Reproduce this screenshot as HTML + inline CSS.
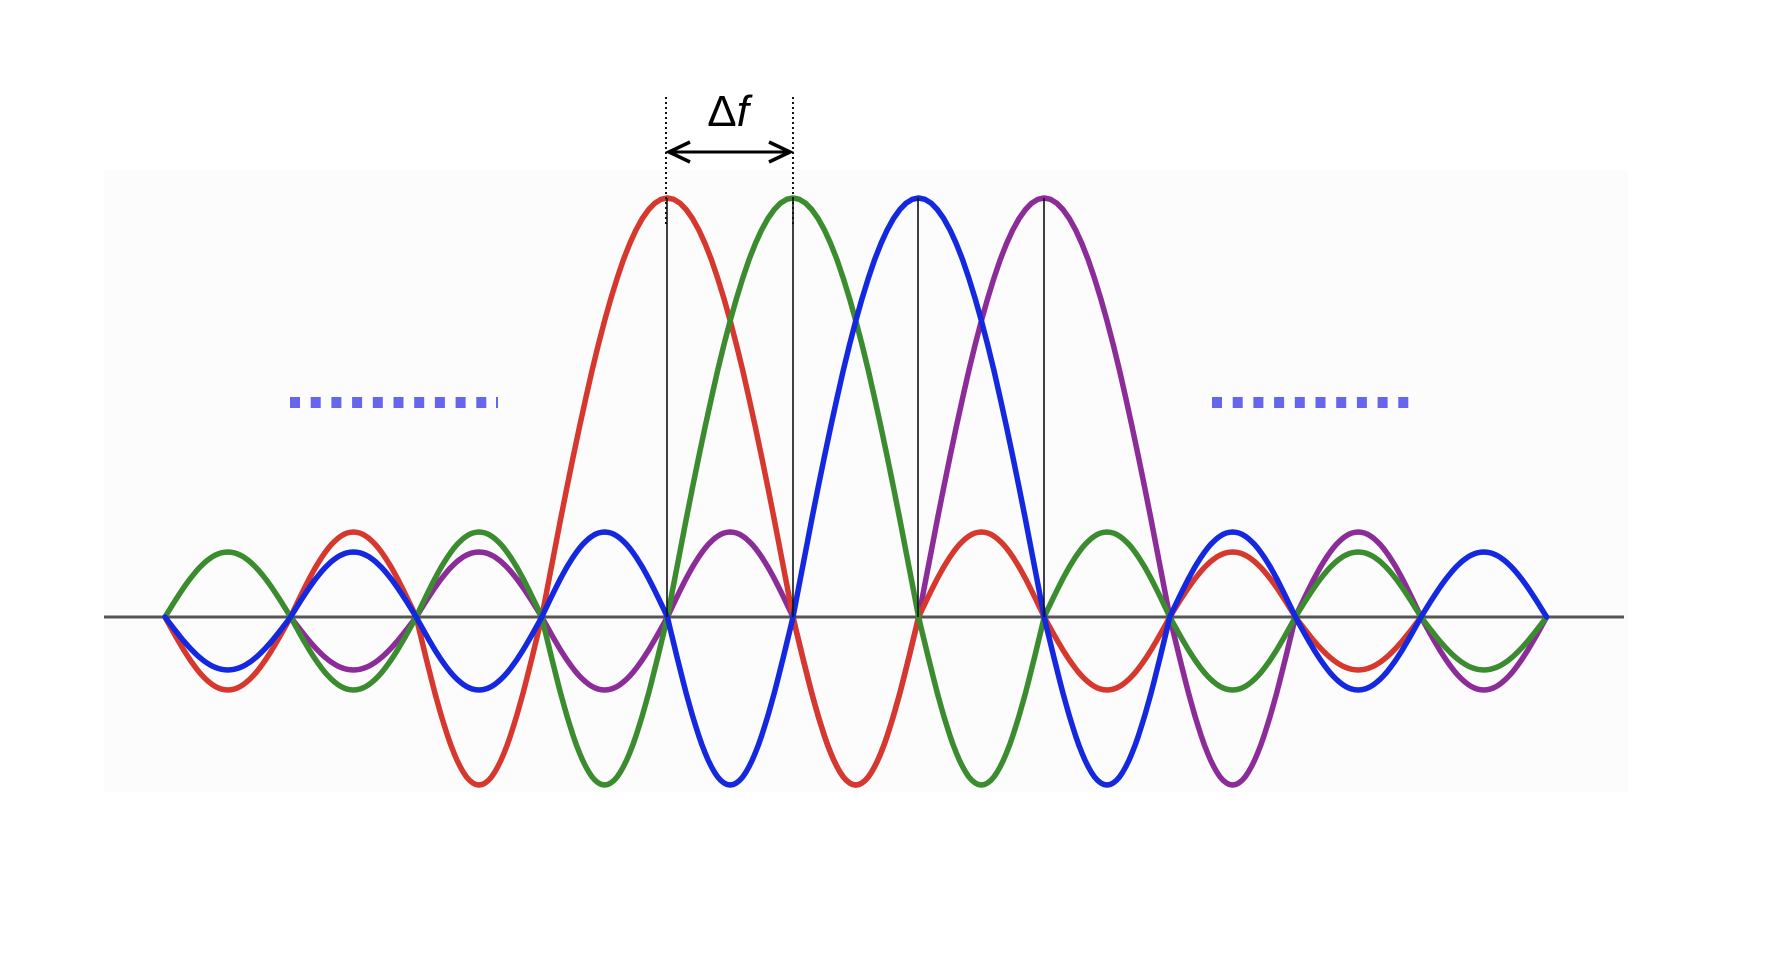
<!DOCTYPE html>
<html><head><meta charset="utf-8"><style>
html,body{margin:0;padding:0;background:#fff;width:1772px;height:960px;overflow:hidden}
svg{display:block}
</style></head><body>
<svg id="s" width="1772" height="960" viewBox="0 0 1772 960" xmlns="http://www.w3.org/2000/svg">
<rect x="104" y="170" width="1524" height="622" fill="#fcfcfc"/>
<g id="squares" fill="#6565ee"></g>
<line x1="104" y1="617" x2="1624" y2="617" stroke="#555" stroke-width="3"/>
<g id="curves" fill="none" stroke-width="5.5" stroke-linejoin="round" stroke-linecap="round"></g>
<g stroke="#111" stroke-width="1.6">
<line x1="667" y1="198" x2="667" y2="617"/>
<line x1="793" y1="198" x2="793" y2="617"/>
<line x1="918" y1="198" x2="918" y2="617"/>
<line x1="1044" y1="198" x2="1044" y2="617"/>
</g>
<g stroke="#111" stroke-width="2" stroke-dasharray="2,3">
<line x1="666" y1="97" x2="666" y2="225"/>
<line x1="793" y1="97" x2="793" y2="225"/>
</g>
<line x1="669" y1="152" x2="790" y2="152" stroke="#000" stroke-width="3"/>
<polyline points="690,142 669,152 690,162" fill="none" stroke="#000" stroke-width="3.5" stroke-linejoin="miter"/>
<polyline points="769,142 790,152 769,162" fill="none" stroke="#000" stroke-width="3.5" stroke-linejoin="miter"/>
<text x="728" y="126" font-family="Liberation Sans, sans-serif" font-size="44" text-anchor="middle" fill="#000">Δ<tspan font-style="italic">f</tspan></text>
</svg>
<script>
var X0=165,S=125.6,Y=617,MAIN=419;
var seq=[-168,85,-73,65,-53];
function zx(k){return X0+k*S;}
function build2(pk,color,minI,maxI){
  var d="",first=true;
  function add(x1,x2,a){for(var j=0;j<=40;j++){var t=j/40;var x=x1+(x2-x1)*t;var y=Y-a*Math.sin(Math.PI*t);d+=(first?"M":"L")+x.toFixed(1)+" "+y.toFixed(1)+" ";first=false;}}
  for(var i=minI;i<=maxI;i++){
    if(i==pk) continue;
    if(i==pk-1){add(zx(pk-1),zx(pk+1),MAIN);continue;}
    var amp=(i<pk-1)?seq[(pk-2)-i]:seq[i-(pk+1)];
    add(zx(i),zx(i+1),amp);
  }
  var p=document.createElementNS("http://www.w3.org/2000/svg","path");
  p.setAttribute("d",d);p.setAttribute("stroke",color);
  document.getElementById("curves").appendChild(p);
}
build2(7,"#8b2c98",1,10);
build2(4,"#d7382e",0,9);
build2(5,"#3b8c2f",0,10);
build2(6,"#1428e0",0,10);
var g=document.getElementById("squares");
function sq(x){var r=document.createElementNS("http://www.w3.org/2000/svg","rect");r.setAttribute("x",x);r.setAttribute("y",397);r.setAttribute("width",10);r.setAttribute("height",11);g.appendChild(r);}
for(var i=0;i<10;i++)sq(290+i*20.7);
var r=document.createElementNS("http://www.w3.org/2000/svg","rect");r.setAttribute("x",496);r.setAttribute("y",397);r.setAttribute("width",2);r.setAttribute("height",11);g.appendChild(r);
for(var i=0;i<10;i++)sq(1212+i*20.7);
</script>
</body></html>
